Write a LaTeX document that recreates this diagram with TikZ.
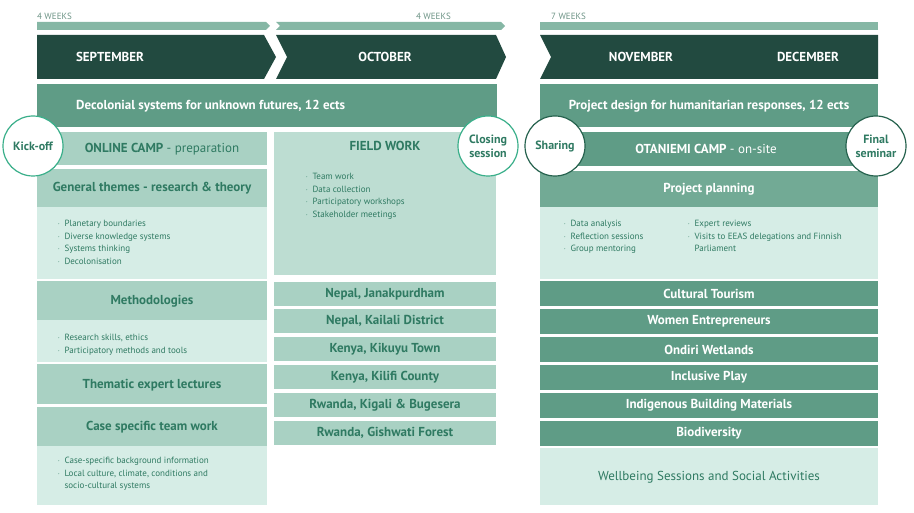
\documentclass[tikz,border=0pt]{standalone}
\usepackage{fontspec}
\setmainfont{PT Sans}
\definecolor{darkgreen}{HTML}{224A40}
\definecolor{midgreen}{HTML}{5F9C86}
\definecolor{planGreen}{HTML}{72AA95}
\definecolor{barGreen}{HTML}{86B7A5}
\definecolor{paleGreen}{HTML}{A9D1C3}
\definecolor{fieldGreen}{HTML}{BDDDD2}
\definecolor{lightGreen}{HTML}{D6EDE6}
\definecolor{textGreen}{HTML}{2F7A62}
\definecolor{ringGreen}{HTML}{3AAF8A}
\begin{document}
\begin{tikzpicture}[x=1pt,y=-1pt,
    box/.style={inner sep=0pt, text=textGreen, font=\fontsize{13}{14}\selectfont\bfseries},
    darkbox/.style={box, text=white},
    bullets/.style={text=textGreen, font=\fontsize{9}{12.5}\selectfont, align=left, anchor=north west},
    event/.style={circle, draw=ringGreen, line width=1.2pt, fill=white, minimum size=60pt, inner sep=0pt, text=textGreen, font=\fontsize{12}{14}\selectfont\bfseries, align=center},
    weeks/.style={text=barGreen!80!black, font=\fontsize{9}{10}\selectfont, inner sep=0pt}]
    \useasboundingbox (0,0) rectangle (914,513);
    % weeks
    \node[weeks, anchor=west] (w1) at (37,16) {4 WEEKS};
    \node[weeks, anchor=east] (w2) at (451,16) {4 WEEKS};
    \node[weeks, anchor=west] (w3) at (551,16) {7 WEEKS};
    \fill[barGreen] (37,22) -- (266,22) -- (270,26) -- (266,30) -- (37,30) -- cycle;
    \fill[barGreen] (276,22) -- (501,22) -- (505,26) -- (501,30) -- (276,30) -- (280,26) -- cycle;
    \fill[barGreen] (540,22) rectangle (878,30);
    % months
    \fill[darkgreen] (37,35) -- (264,35) -- (276,57) -- (264,79) -- (37,79) -- cycle;
    \fill[darkgreen] (276,35) -- (496,35) -- (506,57) -- (496,79) -- (276,79) -- (287,57) -- cycle;
    \fill[darkgreen] (540,35) -- (878,35) -- (878,79) -- (540,79) -- (551,57) -- cycle;
    \node[darkbox] (sep) at (110,57) {SEPTEMBER};
    \node[darkbox] (oct) at (385,57) {OCTOBER};
    \node[darkbox] (nov) at (641,57) {NOVEMBER};
    \node[darkbox] (dec) at (808,57) {DECEMBER};
    % courses
    \fill[midgreen] (37,84) rectangle (497,127);
    \fill[midgreen] (540,84) rectangle (878,127);
    \node[darkbox, anchor=west] (decol) at (76,106) {Decolonial systems for unknown futures, 12 ects};
    \node[darkbox] (design) at (709,106) {Project design for humanitarian responses, 12 ects};
    % left column
    \fill[paleGreen] (37,132) rectangle (267,165);
    \fill[paleGreen] (37,169) rectangle (267,207);
    \fill[lightGreen] (37,207) rectangle (267,279);
    \fill[paleGreen] (37,281) rectangle (267,320);
    \fill[lightGreen] (37,320) rectangle (267,362);
    \fill[paleGreen] (37,364) rectangle (267,404);
    \fill[paleGreen] (37,407) rectangle (267,446);
    \fill[lightGreen] (37,446) rectangle (267,505);
    \node[box] (online) at (162,149) {ONLINE CAMP \mdseries- preparation};
    \node[box] (themes) at (152,188) {General themes - research \& theory};
    \node[bullets] (themelist) at (54,217) {$\cdot$\enspace Planetary boundaries\\ $\cdot$\enspace Diverse knowledge systems\\ $\cdot$\enspace Systems thinking\\ $\cdot$\enspace Decolonisation};
    \node[box] (method) at (152,301) {Methodologies};
    \node[bullets] (methodlist) at (54,331) {$\cdot$\enspace Research skills, ethics\\ $\cdot$\enspace Participatory methods and tools};
    \node[box] (lectures) at (152,385) {Thematic expert lectures};
    \node[box] (teamwork) at (152,427) {Case specific team work};
    \node[bullets] (caselist) at (54,454) {$\cdot$\enspace Case-specific background information\\ $\cdot$\enspace Local culture, climate, conditions and\\ \phantom{$\cdot$\enspace }socio-cultural systems};
    % middle column
    \fill[fieldGreen] (274,132) rectangle (496,275);
    \node[box] (field) at (385,146) {FIELD WORK};
    \node[bullets] (fieldlist) at (302,170) {$\cdot$\enspace Team work\\ $\cdot$\enspace Data collection\\ $\cdot$\enspace Participatory workshops\\ $\cdot$\enspace Stakeholder meetings};
    \foreach \y/\name/\txt in {282/nepalJ/{Nepal, Janakpurdham}, 309/nepalK/{Nepal, Kailali District}, 337/kenyaK/{Kenya, Kikuyu Town}, 365/kenyaF/{Kenya, Kilifi County}, 393/rwandaK/{Rwanda, Kigali \& Bugesera}, 421/rwandaG/{Rwanda, Gishwati Forest}} {
        \fill[paleGreen] (274,\y) rectangle (496,\y+24);
        \node[box] (\name) at (385,\y+12) {\txt};
    }
    % right column
    \fill[midgreen] (540,132) rectangle (878,166);
    \node[darkbox] (otaniemi) at (706,149) {OTANIEMI CAMP \mdseries- on-site};
    \fill[planGreen] (540,171) rectangle (878,207);
    \node[darkbox] (planning) at (709,189) {Project planning};
    \fill[lightGreen] (540,207) rectangle (878,279);
    \node[bullets] (planlistA) at (560,217) {$\cdot$\enspace Data analysis\\ $\cdot$\enspace Reflection sessions\\ $\cdot$\enspace Group mentoring};
    \node[bullets] (planlistB) at (684,217) {$\cdot$\enspace Expert reviews\\ $\cdot$\enspace Visits to EEAS delegations and Finnish\\ \phantom{$\cdot$\enspace }Parliament};
    \foreach \y/\name/\txt in {281/tourism/{Cultural Tourism}, 309/women/{Women Entrepreneurs}, 337/ondiri/{Ondiri Wetlands}, 365/play/{Inclusive Play}, 393/materials/{Indigenous Building Materials}, 421/biodiv/{Biodiversity}} {
        \fill[midgreen] (540,\y) rectangle (878,\y+25);
        \node[darkbox] (\name) at (709,\y+12.5) {\txt};
    }
    \fill[lightGreen] (540,448) rectangle (878,505);
    \node[box, font=\fontsize{13}{14}\selectfont] (wellbeing) at (709,477) {Wellbeing Sessions and Social Activities};
    % events
    \node[event] (kickoff) at (33,146) {Kick-off};
    \node[event] (closing) at (488,146) {Closing\\session};
    \node[event, draw=textGreen!80!black] (sharing) at (555,146) {Sharing};
    \node[event, draw=textGreen!80!black] (final) at (876,146) {Final\\seminar};
\end{tikzpicture}
\end{document}
